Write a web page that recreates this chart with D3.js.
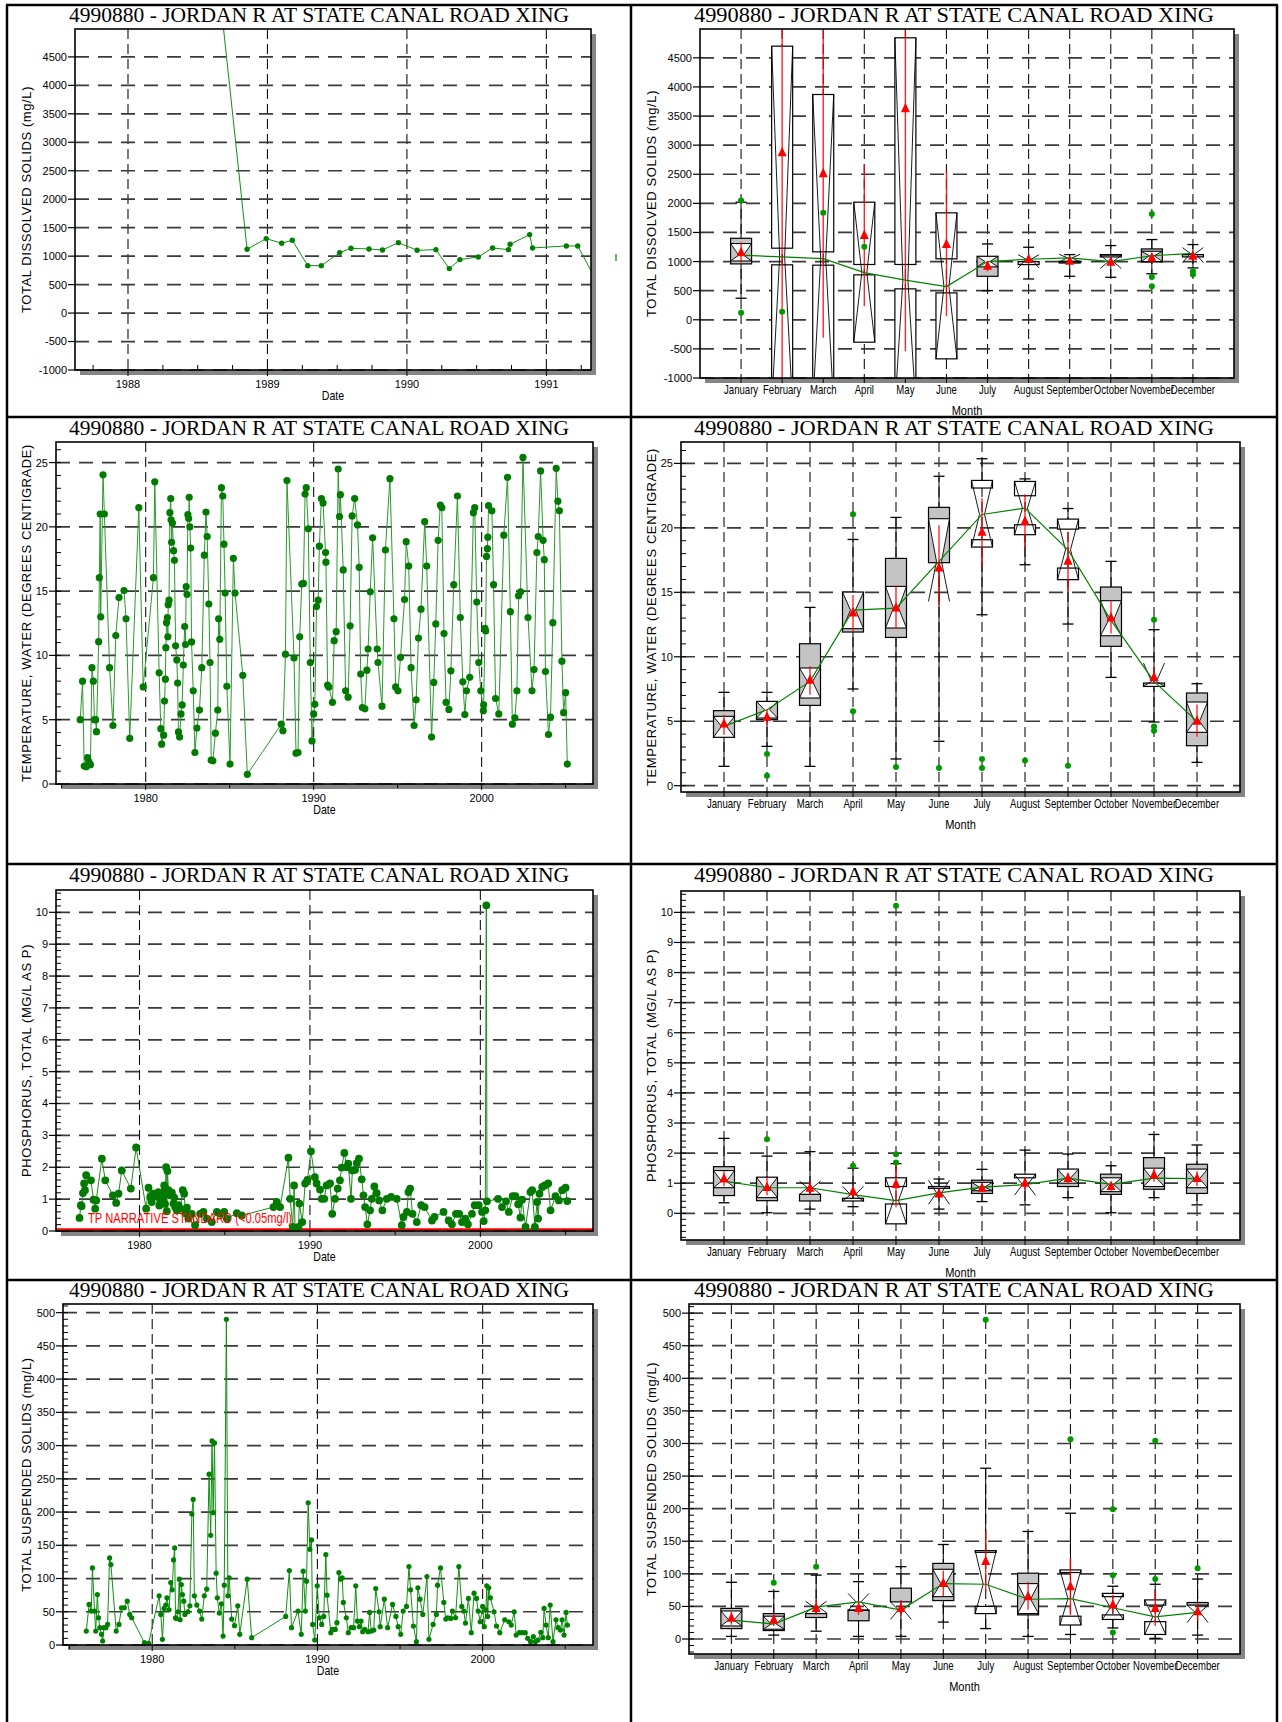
<!DOCTYPE html>
<html><head><meta charset="utf-8">
<script src="https://cdn.jsdelivr.net/npm/d3@7"></script>
<style>body{margin:0;background:#fff}svg{display:block}</style>
</head><body>
<script>
// ================= DATA =================
const chartTitle = "4990880 - JORDAN R AT STATE CANAL ROAD XING";
const months = ["January","February","March","April","May","June","July","August","September","October","November","December"];

// Time series: [decimal year, value]
const tdsSeries = [[1988.58,7400],[1988.854,1120],[1988.991,1308],[1989.102,1226],[1989.178,1278],[1989.289,833],[1989.386,833],[1989.518,1062],[1989.599,1138],[1989.728,1126],[1989.825,1109],[1989.939,1237],[1990.073,1103],[1990.208,1114],[1990.304,781],[1990.380,939],[1990.512,986],[1990.614,1144],[1990.728,1114],[1990.740,1208],[1990.880,1378],[1990.901,1144],[1991.143,1179],[1991.225,1179],[1991.38,470]];

const tempSeries = [[1976.10,5.0],[1976.24,8.0],[1976.34,1.4],[1976.46,1.35],[1976.54,2.05],[1976.61,1.75],[1976.71,1.5],[1976.80,9.05],[1976.88,8.0],[1976.95,5.0],[1977.02,5.0],[1977.07,4.07],[1977.20,11.07],[1977.24,16.05],[1977.29,21.0],[1977.32,13.0],[1977.46,24.05],[1977.54,21.0],[1977.85,9.05],[1978.05,4.55],[1978.22,11.55],[1978.41,14.5],[1978.71,15.05],[1978.83,12.85],[1979.05,3.55],[1979.59,21.5],[1979.85,7.55],[1980.46,16.05],[1980.54,23.5],[1980.80,8.65],[1980.90,4.3],[1980.95,3.1],[1981.07,3.8],[1981.12,6.45],[1981.17,8.15],[1981.20,10.6],[1981.24,12.55],[1981.29,12.95],[1981.32,11.45],[1981.34,13.95],[1981.39,14.3],[1981.44,21.1],[1981.49,22.2],[1981.51,20.55],[1981.54,18.8],[1981.59,20.3],[1981.66,18.15],[1981.71,17.4],[1981.78,10.75],[1981.85,9.65],[1981.90,7.85],[1981.95,4.05],[1982.02,3.65],[1982.10,5.45],[1982.17,6.15],[1982.24,9.25],[1982.32,12.25],[1982.37,10.85],[1982.41,15.35],[1982.46,14.75],[1982.51,20.95],[1982.56,20.65],[1982.59,22.3],[1982.63,20.0],[1982.68,18.35],[1982.73,11.05],[1982.83,7.25],[1982.93,2.45],[1983.05,4.35],[1983.20,5.75],[1983.34,9.05],[1983.49,17.8],[1983.59,21.15],[1983.66,19.25],[1983.76,14.0],[1983.83,9.45],[1983.90,1.85],[1984.00,1.8],[1984.15,3.95],[1984.29,5.75],[1984.34,12.85],[1984.41,11.25],[1984.51,23.05],[1984.59,22.4],[1984.66,18.65],[1984.73,14.85],[1984.83,7.6],[1985.02,1.55],[1985.22,17.55],[1985.32,14.85],[1985.78,8.45],[1986.05,0.75],[1988.07,4.65],[1988.17,4.15],[1988.32,10.1],[1988.41,23.6],[1988.83,9.8],[1988.95,2.4],[1989.07,2.45],[1989.17,11.45],[1989.29,15.55],[1989.39,15.6],[1989.49,22.55],[1989.56,23.05],[1989.68,19.85],[1989.80,9.45],[1989.90,3.35],[1990.00,5.45],[1990.07,6.2],[1990.17,13.8],[1990.27,14.3],[1990.34,18.5],[1990.46,22.2],[1990.56,21.85],[1990.71,18.0],[1990.73,17.25],[1990.83,7.7],[1990.90,7.55],[1991.12,6.35],[1991.22,11.15],[1991.34,11.85],[1991.46,24.5],[1991.54,20.8],[1991.59,22.5],[1991.76,16.65],[1991.90,7.25],[1992.05,6.75],[1992.17,12.3],[1992.29,20.85],[1992.44,22.2],[1992.61,20.15],[1992.71,16.85],[1992.80,8.55],[1992.90,5.95],[1993.05,5.85],[1993.17,8.85],[1993.24,10.5],[1993.37,14.95],[1993.51,19.15],[1993.78,10.5],[1993.83,9.45],[1994.07,6.05],[1994.27,18.2],[1994.54,23.75],[1994.78,12.85],[1994.88,7.55],[1995.02,7.25],[1995.17,9.85],[1995.41,14.35],[1995.51,18.85],[1995.66,16.95],[1995.80,9.05],[1995.98,4.55],[1996.10,6.55],[1996.24,11.35],[1996.39,13.6],[1996.61,20.4],[1996.73,16.95],[1997.02,3.65],[1997.15,7.9],[1997.27,12.45],[1997.41,18.95],[1997.54,21.7],[1997.63,21.5],[1997.76,11.7],[1997.88,6.35],[1998.05,5.8],[1998.17,8.8],[1998.34,15.5],[1998.56,22.4],[1998.73,12.95],[1998.88,7.95],[1999.00,5.4],[1999.10,7.25],[1999.29,8.3],[1999.51,21.1],[1999.59,21.5],[1999.71,14.15],[1999.83,9.45],[1999.95,7.25],[2000.10,5.7],[2000.12,6.15],[2000.20,12.1],[2000.24,11.9],[2000.29,17.7],[2000.34,18.3],[2000.37,19.2],[2000.41,21.65],[2000.61,21.25],[2000.71,15.5],[2000.83,6.65],[2001.02,5.45],[2001.32,19.35],[2001.54,23.85],[2001.71,13.4],[2001.83,4.65],[2001.98,5.15],[2002.10,7.25],[2002.20,14.65],[2002.32,14.95],[2002.46,25.4],[2002.76,12.95],[2003.00,7.25],[2003.12,8.9],[2003.29,18.0],[2003.37,19.25],[2003.51,24.35],[2003.66,18.95],[2003.73,17.45],[2003.80,8.75],[2003.98,3.85],[2004.10,5.2],[2004.24,12.55],[2004.44,24.55],[2004.54,22.0],[2004.63,21.25],[2004.78,9.55],[2004.88,5.55],[2005.00,7.1],[2005.10,1.55]];

const phosSeries = [[1976.48,0.41],[1976.56,0.81],[1976.60,0.78],[1976.68,1.19],[1976.75,1.49],[1976.80,1.28],[1976.87,1.75],[1977.15,1.59],[1977.30,0.98],[1977.40,0.70],[1977.46,0.96],[1977.79,2.27],[1977.99,1.59],[1978.44,1.12],[1978.63,0.88],[1978.77,1.17],[1978.96,1.90],[1979.49,1.33],[1979.80,2.62],[1980.39,0.70],[1980.53,1.36],[1980.63,1.07],[1980.72,0.91],[1980.82,1.17],[1981.02,1.12],[1981.11,1.22],[1981.16,0.80],[1981.21,0.98],[1981.25,0.95],[1981.31,1.20],[1981.38,1.05],[1981.45,1.43],[1981.50,0.85],[1981.56,2.0],[1981.60,0.62],[1981.64,1.88],[1981.70,1.28],[1981.80,1.12],[1981.90,1.20],[1981.99,0.86],[1982.04,1.05],[1982.09,0.75],[1982.19,0.65],[1982.29,0.81],[1982.39,0.70],[1982.54,1.28],[1982.62,1.17],[1982.70,0.55],[1982.78,0.73],[1982.87,0.39],[1983.07,0.54],[1983.26,0.18],[1983.56,0.54],[1983.75,0.60],[1983.95,0.39],[1984.24,0.28],[1984.54,0.60],[1984.73,0.54],[1984.97,0.60],[1985.12,0.39],[1985.71,0.56],[1986.00,0.49],[1987.86,0.75],[1988.05,0.91],[1988.25,0.75],[1988.74,2.30],[1988.84,1.01],[1988.99,0.13],[1989.07,1.43],[1989.13,0.05],[1989.33,0.13],[1989.38,0.86],[1989.55,0.28],[1989.72,1.49],[1989.85,1.60],[1990.06,2.50],[1990.29,1.69],[1990.39,1.49],[1990.59,1.30],[1990.69,1.01],[1990.84,1.01],[1990.98,1.43],[1991.18,1.49],[1991.31,0.54],[1991.47,1.01],[1991.63,1.33],[1991.76,1.59],[1991.86,1.99],[1992.02,2.45],[1992.16,2.0],[1992.25,2.11],[1992.41,1.01],[1992.49,1.90],[1992.65,1.92],[1992.75,2.13],[1992.88,2.27],[1993.04,1.62],[1993.14,1.12],[1993.24,0.75],[1993.37,0.21],[1993.53,0.65],[1993.63,1.01],[1993.78,1.40],[1993.92,1.19],[1994.06,0.96],[1994.25,0.65],[1994.51,1.01],[1994.76,1.07],[1995.10,1.01],[1995.39,0.18],[1995.49,0.44],[1995.69,0.60],[1995.78,1.22],[1995.88,1.33],[1996.02,0.54],[1996.27,0.28],[1996.53,0.81],[1996.73,0.75],[1997.16,0.33],[1997.31,0.44],[1997.84,0.60],[1998.14,0.33],[1998.33,0.21],[1998.57,0.54],[1998.76,0.54],[1998.92,0.28],[1999.12,0.39],[1999.27,0.21],[1999.51,0.54],[1999.67,0.81],[1999.90,0.81],[2000.10,0.60],[2000.20,0.31],[2000.29,0.65],[2000.35,10.22],[2000.39,0.93],[2001.04,1.01],[2001.27,0.75],[2001.51,0.93],[2001.67,0.60],[2001.90,1.09],[2002.06,1.09],[2002.22,0.84],[2002.35,0.42],[2002.45,0.98],[2002.65,0.13],[2002.94,1.22],[2003.04,1.28],[2003.20,0.13],[2003.33,0.91],[2003.39,0.39],[2003.47,1.17],[2003.63,1.38],[2003.78,1.43],[2003.98,1.49],[2004.12,0.65],[2004.41,1.09],[2004.61,0.96],[2004.80,1.28],[2005.00,1.36],[2005.10,0.94]];

const tssSeries = [[1976.01,21],[1976.18,61],[1976.31,51],[1976.38,116],[1976.51,51],[1976.58,21],[1976.68,76],[1976.75,41],[1976.83,26],[1976.93,16],[1977.00,6],[1977.08,26],[1977.20,26],[1977.30,31],[1977.42,131],[1977.50,121],[1977.82,21],[1977.99,31],[1978.14,56],[1978.31,56],[1978.49,66],[1978.64,46],[1978.76,41],[1979.53,3.5],[1979.78,2.5],[1980.42,74],[1980.52,46],[1980.62,8.5],[1980.72,55],[1980.82,60],[1980.89,71],[1981.02,53],[1981.12,94],[1981.21,83],[1981.29,128],[1981.36,146],[1981.41,41],[1981.46,40],[1981.56,50],[1981.64,99],[1981.69,38],[1981.76,91],[1981.83,76],[1981.91,66],[1981.98,46],[1982.16,50],[1982.28,59],[1982.40,197],[1982.48,219],[1982.55,74],[1982.70,60],[1982.87,51],[1983.00,39],[1983.15,74],[1983.30,84],[1983.44,257],[1983.54,165],[1983.62,307],[1983.69,199],[1983.77,304],[1983.87,108],[1983.94,71],[1984.06,48],[1984.19,62],[1984.29,13.5],[1984.36,90],[1984.49,490],[1984.58,74],[1984.66,101],[1984.81,39],[1984.98,29],[1985.18,59],[1985.30,16],[1985.75,99],[1986.02,11],[1988.08,43],[1988.30,112],[1988.43,26],[1988.82,51],[1989.02,16],[1989.14,111],[1989.27,51],[1989.34,96],[1989.44,214],[1989.54,144],[1989.64,158],[1989.71,31],[1989.84,7.5],[1989.99,89],[1990.11,41],[1990.26,31],[1990.38,43],[1990.51,136],[1990.58,75],[1990.81,18.5],[1990.90,23.5],[1991.08,23.5],[1991.18,33.6],[1991.30,109],[1991.40,99],[1991.50,101],[1991.57,64],[1991.75,41],[1991.87,18.5],[1992.04,26],[1992.19,26],[1992.32,89],[1992.42,36],[1992.54,27.6],[1992.64,36],[1992.74,20],[1992.86,23.5],[1993.06,20],[1993.16,49],[1993.26,21],[1993.41,22.5],[1993.53,85],[1993.73,50],[1993.80,27.6],[1994.05,69],[1994.25,26],[1994.55,61],[1994.75,43],[1994.89,27.6],[1995.04,16],[1995.19,51],[1995.39,58],[1995.54,118],[1995.64,83],[1995.81,28.6],[1995.99,5],[1996.08,86],[1996.21,69],[1996.38,46],[1996.63,103],[1996.75,8.5],[1997.00,31],[1997.20,46],[1997.27,90],[1997.45,116],[1997.65,64],[1997.77,39],[1997.89,41],[1998.07,40],[1998.17,51],[1998.36,41],[1998.56,118],[1998.74,58],[1998.86,51],[1998.96,33],[1999.14,70],[1999.31,18.5],[1999.48,78],[1999.63,70],[1999.73,51],[1999.85,35],[2000.00,58],[2000.10,27.6],[2000.20,53],[2000.25,89],[2000.30,43],[2000.37,86],[2000.47,71],[2000.69,50],[2000.84,28.6],[2001.04,18.5],[2001.34,38],[2001.59,35],[2001.73,30],[2001.91,50],[2002.03,15],[2002.23,18.5],[2002.40,18.5],[2002.58,18.5],[2002.73,10],[2002.90,5],[2003.07,12.5],[2003.20,5],[2003.35,7.5],[2003.52,19],[2003.64,11],[2003.72,55],[2003.84,30],[2003.97,11],[2004.09,60],[2004.26,5],[2004.44,38],[2004.56,26],[2004.71,22.5],[2004.81,38],[2004.93,15],[2005.05,49],[2005.13,30]];

// Monthly box statistics, one row per month:
// [q1, q3, median, notchLow, notchHigh, whiskerLow, whiskerHigh, mean, meanLow, meanHigh]
const tdsMonthly = [
 [960,1400,1110,1010,1310,370,2020,1150,980,1330],
 [944,1230,1080,-1500,4700,null,null,2868,-1500,6000],
 [938,1167,1050,-1500,3870,null,null,2507,-310,6000],
 [772,950,810,-385,2020,null,null,1448,233,2667],
 [531,950,680,-1500,4844,null,null,3624,-540,6000],
 [462,1047,570,-671,1837,null,null,1293,61,2570],
 [747,1091,1000,909,1091,501,1303,919,833,1005],
 [948,1000,1040,890,1120,701,1246,1034,960,1100],
 [975,1005,1065,990,1125,747,1120,1005,960,1060],
 [1080,1120,1000,880,1110,730,1275,988,940,1040],
 [994,1217,1100,1000,1177,790,1378,1062,980,1150],
 [1080,1120,1140,980,1240,891,1292,1091,1020,1160]];
const tempMonthly = [
 [3.75,5.82,4.6,3.75,5.38,1.5,7.24,4.78,3.95,5.5],
 [5.12,6.54,5.89,5.25,6.54,3.05,7.24,5.3,4.7,5.9],
 [6.23,11.01,8.09,6.8,9.13,1.5,13.83,8.17,7.06,9.26],
 [11.92,15.02,13.62,12.18,15.02,7.5,19.1,13.39,11.97,14.8],
 [11.5,17.63,13.78,12.23,15.46,2.07,20.81,13.78,12.2,15.46],
 [17.3,21.59,17.4,14.3,20.71,3.44,24.0,16.88,14.0,20.2],
 [19.08,23.09,21.04,18.51,23.68,13.26,25.36,19.65,17.0,22.3],
 [20.24,22.49,21.53,19.47,23.6,17.14,23.8,20.5,18.4,22.6],
 [16.88,19.9,18.3,15.98,20.68,12.54,21.5,17.4,15.07,19.7],
 [10.81,15.41,12.82,11.63,14.35,8.4,17.4,13.0,11.8,14.3],
 [7.7,7.96,8.09,7.7,9.51,4.94,12.1,8.4,7.9,9.2],
 [3.1,7.19,4.99,4.14,6.49,1.81,7.91,4.99,3.8,6.3]];
const phosMonthly = [
 [0.59,1.55,1.07,0.85,1.42,0.35,2.49,1.14,0.9,1.4],
 [0.42,1.2,0.85,0.52,1.2,0.02,1.9,0.86,0.6,1.2],
 [0.41,0.63,0.85,0.63,1.07,0.14,2.05,0.83,0.6,1.05],
 [0.41,0.5,0.62,0.4,0.9,0.22,1.5,0.72,0.55,0.9],
 [0.31,0.89,0.42,-0.35,1.18,0.05,1.65,0.96,0.2,1.75],
 [0.83,0.89,0.68,0.3,1.1,0.14,1.14,0.64,0.5,0.8],
 [0.66,1.1,0.87,0.75,1.03,0.39,1.46,0.83,0.7,1.0],
 [1.18,1.3,0.95,0.6,1.3,0.28,2.1,1.0,0.8,1.2],
 [0.89,1.47,1.17,1.0,1.47,0.52,1.97,1.16,1.0,1.35],
 [0.63,1.3,0.96,0.72,1.18,0.02,1.58,0.89,0.75,1.05],
 [0.8,1.85,1.17,0.89,1.5,0.52,2.62,1.27,1.05,1.5],
 [0.66,1.63,1.15,0.85,1.47,0.28,2.27,1.16,0.9,1.4]];
const tssMonthly = [
 [16,47,29,20,43,4,87,32,22,42],
 [13,39,23,15,35,6,73,29,20,38],
 [33,39,49,40,58,12,98,47,37,60],
 [28,44.5,57,44,70,4,88,47,37,58],
 [57,78,44.5,30,57,4,111,47,35,60],
 [59,116,85,65,107,26,145,85,66,105],
 [50,133,84,39,135.6,16,262,119,73,165],
 [37,101,61,39,85,4,165,65,45,88],
 [35,102,62,21.5,106,7,193,80,37,124],
 [37,65,48,30,70,17,81,52,40,68],
 [26.6,52,34,7,60,1,84,47,20,76],
 [52,56,41,25,52,6,92,42,28,55]];

// Outliers: [month index, value]
const tdsOutliers = [[0,2050],[0,120],[1,136],[2,1837],[3,1253],[10,1819],[10,736],[10,575],[11,833],[11,776]];
const tempOutliers = [[1,2.46],[1,0.78],[3,21.05],[3,5.77],[4,1.45],[5,1.37],[6,2.07],[6,1.37],[7,1.96],[8,1.55],[10,12.87],[10,4.6],[10,4.27]];
const phosOutliers = [[1,2.46],[3,1.58],[4,10.22],[4,1.96],[4,1.69]];
const tssOutliers = [[1,86.5],[2,111],[6,490],[8,306.5],[9,199],[9,98],[9,10],[10,304],[10,92],[11,108.5]];

// Axis ticks
const tdsYTicks = [-1000,-500,0,500,1000,1500,2000,2500,3000,3500,4000,4500];
const tempYTicks = [0,5,10,15,20,25];
const phosYTicks = [0,1,2,3,4,5,6,7,8,9,10];
const tssYTicks = [0,50,100,150,200,250,300,350,400,450,500];
const tdsYearTicks = [1988,1989,1990,1991];
const tdsQuarterTicks = [1987.75,1988.25,1988.5,1988.75,1989.25,1989.5,1989.75,1990.25,1990.5,1990.75,1991.25];
const longYearTicks = [1980,1990,2000];
const longYearMinor = [1975,1985,1995,2005];

const yTitles = {
  tds:"TOTAL DISSOLVED SOLIDS (mg/L)",
  temp:"TEMPERATURE, WATER (DEGREES CENTIGRADE)",
  phos:"PHOSPHORUS, TOTAL (MG/L AS P)",
  tss:"TOTAL SUSPENDED SOLIDS (mg/L)"};
const standardLabel = "TP NARRATIVE STANDARD (<0.05mg/l)";
const standardValue = 0.05;

// ================= DRAWING =================
const SANS = "'Liberation Sans', Arial, Helvetica, sans-serif";
const SERIF = "'Liberation Serif', 'Times New Roman', serif";
const GREEN = "#008000";

const svg = d3.select("body").append("svg").attr("width",1282).attr("height",1722);
svg.append("rect").attr("width",1282).attr("height",1722).attr("fill","#fff");
let clipId = 0;

function narrow(parent, x, y, str, size, anchor, sx, fill){
  return parent.append("g").attr("transform",`translate(${x},${y}) scale(${sx||0.8},1)`)
    .append("text").attr("text-anchor",anchor||"middle").attr("font-family",SANS).attr("font-size",size)
    .attr("fill",fill||"#000").text(str);
}
// clip a polygon (pixel coords) to the horizontal band yTop..yBot
function clipBand(pts, yTop, yBot){
  function half(poly, keep, yl){
    const out=[];
    for(let i=0;i<poly.length;i++){
      const c=poly[i], pr=poly[(i+poly.length-1)%poly.length];
      const ci=keep(c[1]), pi=keep(pr[1]);
      const inter=()=>{const t=(yl-pr[1])/(c[1]-pr[1]); return [pr[0]+t*(c[0]-pr[0]), yl];};
      if(ci){ if(!pi) out.push(inter()); out.push(c);} else if(pi) out.push(inter());
    }
    return out;
  }
  let r=half(pts, v=>v>=yTop, yTop);
  if(r.length) r=half(r, v=>v<=yBot, yBot);
  return r;
}
function frame(p){
  svg.append("rect").attr("x",p.x0+5).attr("y",p.y0+5).attr("width",p.x1-p.x0).attr("height",p.y1-p.y0).attr("fill","#858585");
  svg.append("rect").attr("x",p.x0).attr("y",p.y0).attr("width",p.x1-p.x0).attr("height",p.y1-p.y0).attr("fill","#fff");
}
function border(p){
  svg.append("rect").attr("x",p.x0).attr("y",p.y0).attr("width",p.x1-p.x0).attr("height",p.y1-p.y0)
    .attr("fill","none").attr("stroke","#000").attr("stroke-width",1.6);
}
function clipGroup(p){
  const id = "clip"+(clipId++);
  svg.append("clipPath").attr("id",id).append("rect").attr("x",p.x0).attr("y",p.y0).attr("width",p.x1-p.x0).attr("height",p.y1-p.y0);
  return svg.append("g").attr("clip-path",`url(#${id})`);
}
function titles(p, yTitle, xTitle, xTitleDy, xTitleSize){
  svg.append("text").attr("x",p.cx).attr("y",p.ty).attr("text-anchor","middle")
    .attr("font-family",SERIF).attr("font-size",20).attr("textLength",p.tw).attr("lengthAdjust","spacingAndGlyphs")
    .text(chartTitle);
  const cy=(p.y0+p.y1)/2;
  svg.append("text").attr("transform",`translate(${p.yt},${cy}) rotate(-90)`).attr("text-anchor","middle")
    .attr("font-family",SANS).attr("font-size",13).attr("letter-spacing",0.6).text(yTitle);
  narrow(svg,(p.x0+p.x1)/2,p.y1+xTitleDy,xTitle,xTitleSize,"middle",0.85);
}
function yAxis(p, y, ticks, minorStep){
  const [lo,hi] = y.domain();
  const hg = svg.append("g");
  ticks.forEach(t=>{
    const yy=y(t);
    hg.append("line").attr("x1",p.x0).attr("x2",p.x1).attr("y1",yy).attr("y2",yy)
      .attr("stroke","#3a3a3a").attr("stroke-width",1.7).attr("stroke-dasharray","14,9");
    hg.append("line").attr("x1",p.x0-7).attr("x2",p.x0).attr("y1",yy).attr("y2",yy).attr("stroke","#000").attr("stroke-width",1.2);
    hg.append("text").attr("x",p.x0-8).attr("y",yy).attr("dy","0.36em").attr("text-anchor","end")
      .attr("font-family",SANS).attr("font-size",11).text(t);
  });
  if(minorStep){
    const start=Math.ceil(lo/minorStep);
    for(let k=start;k*minorStep<=hi;k++){
      const yy=y(k*minorStep);
      hg.append("line").attr("x1",p.x0).attr("x2",p.x0+5).attr("y1",yy).attr("y2",yy).attr("stroke","#000").attr("stroke-width",1);
    }
  }
}
function vGrid(p, xs){
  xs.forEach(xx=>{
    svg.append("line").attr("x1",xx).attr("x2",xx).attr("y1",p.y0).attr("y2",p.y1)
      .attr("stroke","#111").attr("stroke-width",1.1).attr("stroke-dasharray","10,5");
  });
}

// ---------- time series panel ----------
function tsPanel(p, series, opt){
  const x=d3.scaleLinear().domain(p.xDom).range([p.x0,p.x1]);
  const y=d3.scaleLinear().domain(p.yDom).range([p.y1,p.y0]);
  frame(p);
  vGrid(p, opt.xTicks.map(x));
  yAxis(p, y, opt.yTicks, opt.yMinor);
  opt.xTicks.forEach(t=>{
    svg.append("line").attr("x1",x(t)).attr("x2",x(t)).attr("y1",p.y1).attr("y2",p.y1+6).attr("stroke","#000");
    svg.append("text").attr("x",x(t)).attr("y",p.y1+17.5).attr("text-anchor","middle")
      .attr("font-family",SANS).attr("font-size",11).text(t);
  });
  (opt.xMinor||[]).forEach(t=>{
    if(x(t)<p.x0||x(t)>p.x1) return;
    if(opt.minorInside) svg.append("line").attr("x1",x(t)).attr("x2",x(t)).attr("y1",p.y1-5).attr("y2",p.y1).attr("stroke","#000");
    else svg.append("line").attr("x1",x(t)).attr("x2",x(t)).attr("y1",p.y1).attr("y2",p.y1+4).attr("stroke","#000");
  });
  const g=clipGroup(p);
  if(opt.standard!=null){
    g.append("line").attr("x1",p.x0).attr("x2",p.x1).attr("y1",y(opt.standard)).attr("y2",y(opt.standard))
      .attr("stroke","#ff0000").attr("stroke-width",2.2);
  }
  const line=d3.line().x(d=>x(d[0])).y(d=>y(d[1]));
  g.append("path").datum(series).attr("d",line).attr("fill","none").attr("stroke",opt.lineColor).attr("stroke-width",opt.lineWidth||1);
  g.selectAll(null).data(series).enter().append("circle")
    .attr("cx",d=>x(d[0])).attr("cy",d=>y(d[1])).attr("r",opt.r).attr("fill",opt.dotColor);
  if(opt.standard!=null){
    narrow(svg, p.x0+32, y(opt.standard)-6, standardLabel, 14, "start", 0.8, "#ff0000");
  }
  border(p);
  titles(p, opt.yTitle, "Date", 29.5, 12.5);
  return {x,y};
}

// ---------- monthly box panel ----------
function boxPanel(p, stats, outliers, opt){
  const x=d3.scaleLinear().domain([0,13]).range([p.x0,p.x1]);
  const y=d3.scaleLinear().domain(p.yDom).range([p.y1,p.y0]);
  frame(p);
  vGrid(p, months.map((m,i)=>x(i+1)));
  yAxis(p, y, opt.yTicks, opt.yMinor);
  months.forEach((m,i)=>{
    svg.append("line").attr("x1",x(i+1)).attr("x2",x(i+1)).attr("y1",p.y1).attr("y2",p.y1+5).attr("stroke","#000");
    narrow(svg, x(i+1), p.y1+16, m, 12, "middle", 0.8);
  });
  const g=clipGroup(p);
  const hw=10.5, nw=2.5, cw=5.5, GRAY="#c4c4c4";
  stats.forEach((s,i)=>{
    const [q1,q3,med,nlo,nhi,wlo,whi]=s;
    const xc=x(i+1), xL=xc-hw, xR=xc+hw;
    const bg=g.append("g");
    if(whi!=null){
      bg.append("line").attr("x1",xc).attr("x2",xc).attr("y1",y(whi)).attr("y2",y(q3)).attr("stroke","#000");
      bg.append("line").attr("x1",xc-cw).attr("x2",xc+cw).attr("y1",y(whi)).attr("y2",y(whi)).attr("stroke","#000").attr("stroke-width",1.3);
    }
    if(wlo!=null){
      bg.append("line").attr("x1",xc).attr("x2",xc).attr("y1",y(wlo)).attr("y2",y(q1)).attr("stroke","#000");
      bg.append("line").attr("x1",xc-cw).attr("x2",xc+cw).attr("y1",y(wlo)).attr("y2",y(wlo)).attr("stroke","#000").attr("stroke-width",1.3);
    }
    const glass=[[xL,y(nhi)],[xR,y(nhi)],[xc+nw,y(med)],[xR,y(nlo)],[xL,y(nlo)],[xc-nw,y(med)]];
    const diag=`M${xL},${y(nhi)}L${xc-nw},${y(med)}L${xL},${y(nlo)}M${xR},${y(nhi)}L${xc+nw},${y(med)}L${xR},${y(nlo)}`;
    const closed = nhi>q3 && nlo<q1 && med>=q1 && med<=q3;
    if(closed){
      bg.append("rect").attr("x",xL).attr("y",y(nhi)).attr("width",2*hw).attr("height",y(q3)-y(nhi)).attr("fill","#fff").attr("stroke","#000").attr("stroke-width",1.2);
      bg.append("rect").attr("x",xL).attr("y",y(q1)).attr("width",2*hw).attr("height",y(nlo)-y(q1)).attr("fill","#fff").attr("stroke","#000").attr("stroke-width",1.2);
      bg.append("path").attr("d",diag).attr("fill","none").attr("stroke","#000").attr("stroke-width",0.9);
    } else {
      bg.append("rect").attr("x",xL).attr("y",y(q3)).attr("width",2*hw).attr("height",y(q1)-y(q3)).attr("fill",GRAY);
      const cp=clipBand(glass, y(q3), y(q1));
      if(cp.length>2) bg.append("polygon").attr("points",cp.map(d=>d.join(",")).join(" ")).attr("fill","#fff");
      bg.append("rect").attr("x",xL).attr("y",y(q3)).attr("width",2*hw).attr("height",y(q1)-y(q3)).attr("fill","none").attr("stroke","#000").attr("stroke-width",1.2);
      bg.append("path").attr("d",diag).attr("fill","none").attr("stroke","#000").attr("stroke-width",0.9);
      [nhi,nlo].forEach(v=>{
        if(v<q3 && v>q1) bg.append("line").attr("x1",xL).attr("x2",xR).attr("y1",y(v)).attr("y2",y(v)).attr("stroke","#000").attr("stroke-width",1.1);
      });
    }
  });
  const ml=d3.line().x((d,i)=>x(i+1)).y(d=>y(d[2]));
  g.append("path").datum(stats).attr("d",ml).attr("fill","none").attr("stroke",GREEN).attr("stroke-width",1.2);
  stats.forEach((s,i)=>{
    const xc=x(i+1);
    g.append("line").attr("x1",xc).attr("x2",xc).attr("y1",y(s[8])).attr("y2",y(s[9])).attr("stroke","#ff0000").attr("stroke-width",1.4).attr("opacity",0.85);
    const ym=y(s[7]);
    g.append("path").attr("d",`M${xc},${ym-6}L${xc+4.5},${ym+3.5}L${xc-4.5},${ym+3.5}Z`).attr("fill","#ff0000");
  });
  g.selectAll(null).data(outliers).enter().append("circle")
    .attr("cx",d=>x(d[0]+1)).attr("cy",d=>y(d[1])).attr("r",3).attr("fill","#009a00");
  border(p);
  titles(p, opt.yTitle, "Month", 37, 13);
}

// ---------- table layout ----------
const tbl=svg.append("g").attr("stroke","#000").attr("stroke-width",2.5);
[7,631,1277].forEach(xx=>tbl.append("line").attr("x1",xx).attr("x2",xx).attr("y1",5).attr("y2",1722));
[5,417,864,1280].forEach(yy=>tbl.append("line").attr("x1",6).attr("x2",1278).attr("y1",yy).attr("y2",yy));

// ---------- panels ----------
tsPanel({x0:75,x1:591,y0:29,y1:370,xDom:[1987.62,1991.32],yDom:[-1000,4990],cx:319,ty:22,tw:500,yt:31},
  tdsSeries,{xTicks:tdsYearTicks,xMinor:tdsQuarterTicks,minorInside:true,
  yTicks:tdsYTicks,r:2.7,dotColor:GREEN,lineColor:"#109010",yTitle:yTitles.tds});
svg.append("line").attr("x1",616).attr("x2",616).attr("y1",254).attr("y2",261).attr("stroke","#2a9a2a").attr("stroke-width",1.5);

boxPanel({x0:700,x1:1234,y0:29,y1:378,yDom:[-1000,4995],cx:954,ty:22,tw:520,yt:656},
  tdsMonthly, tdsOutliers, {yTicks:tdsYTicks,yTitle:yTitles.tds});

tsPanel({x0:56,x1:593,y0:442,y1:784,xDom:[1974.66,2006.63],yDom:[0,26.6],cx:319,ty:435,tw:500,yt:31},
  tempSeries,{xTicks:longYearTicks,xMinor:longYearMinor,yTicks:tempYTicks,yMinor:1,r:3.6,dotColor:"#007a00",lineColor:"#2a9a2a",yTitle:yTitles.temp});

boxPanel({x0:681,x1:1240,y0:442,y1:792,yDom:[-0.49,26.66],cx:954,ty:435,tw:520,yt:656},
  tempMonthly, tempOutliers, {yTicks:tempYTicks,yMinor:1,yTitle:yTitles.temp});

tsPanel({x0:56,x1:593,y0:890,y1:1231,xDom:[1975.10,2006.61],yDom:[0,10.70],cx:319,ty:882,tw:500,yt:31},
  phosSeries,{xTicks:longYearTicks,xMinor:longYearMinor,yTicks:phosYTicks,yMinor:0.2,r:3.9,dotColor:"#007a00",lineColor:"#1a8a1a",yTitle:yTitles.phos,standard:standardValue});

boxPanel({x0:681,x1:1240,y0:891,y1:1240,yDom:[-0.887,10.71],cx:954,ty:882,tw:520,yt:656},
  phosMonthly, phosOutliers, {yTicks:phosYTicks,yMinor:0.2,yTitle:yTitles.phos});

tsPanel({x0:63,x1:593,y0:1304,y1:1645,xDom:[1974.60,2006.68],yDom:[0,513],cx:319,ty:1297,tw:500,yt:31},
  tssSeries,{xTicks:longYearTicks,xMinor:longYearMinor,yTicks:tssYTicks,yMinor:10,r:2.6,dotColor:GREEN,lineColor:"#109010",yTitle:yTitles.tss});

boxPanel({x0:689,x1:1240,y0:1304,y1:1654,yDom:[-23,514],cx:954,ty:1297,tw:520,yt:656},
  tssMonthly, tssOutliers, {yTicks:tssYTicks,yMinor:10,yTitle:yTitles.tss});
</script>
</body></html>
